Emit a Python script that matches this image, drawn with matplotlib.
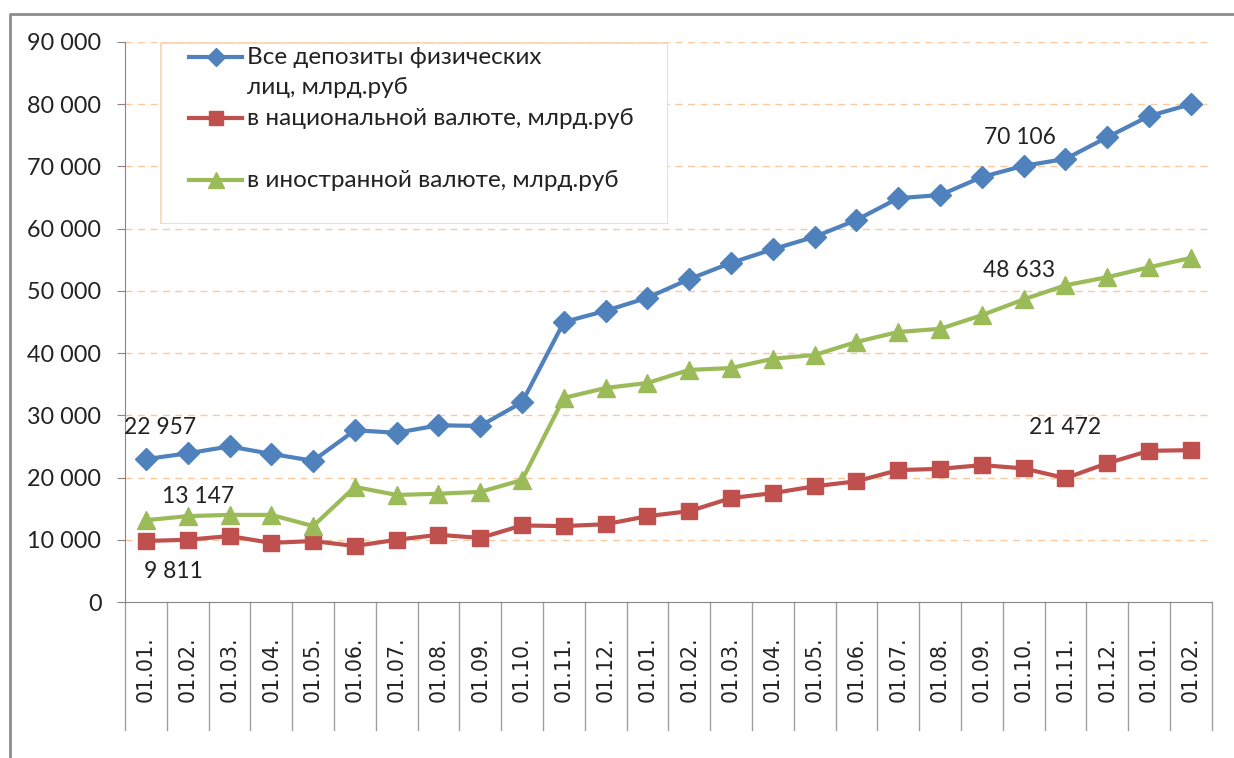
import matplotlib.pyplot as plt
import matplotlib.transforms as mtransforms
from matplotlib.patches import Rectangle
from matplotlib.lines import Line2D

months = ['01.01.', '01.02.', '01.03.', '01.04.', '01.05.', '01.06.',
          '01.07.', '01.08.', '01.09.', '01.10.', '01.11.', '01.12.']
categories = months + months + ['01.01.', '01.02.']

total = [22957, 23900, 25000, 23800, 22700, 27600, 27200, 28400, 28300, 32100,
         45000, 46800, 48900, 51900, 54500, 56700, 58700, 61400, 64900, 65400,
         68300, 70106, 71200, 74700, 78100, 80000]
national = [9811, 10000, 10600, 9500, 9800, 9000, 10000, 10800, 10300, 12300,
            12200, 12500, 13800, 14600, 16700, 17500, 18600, 19400, 21200, 21400,
            22000, 21472, 19900, 22300, 24300, 24400]
foreign = [13147, 13800, 14000, 14000, 12200, 18500, 17200, 17400, 17700, 19600,
           32800, 34400, 35200, 37300, 37600, 39100, 39700, 41800, 43400, 43900,
           46100, 48633, 50900, 52200, 53800, 55300]

series_names = ['Все депозиты физических\nлиц, млрд.руб',
                'в национальной валюте, млрд.руб',
                'в иностранной валюте, млрд.руб']

plt.rcParams['font.family'] = ['Lato', 'DejaVu Sans']

fig = plt.figure(figsize=(12.34, 7.58), dpi=100)
ax = fig.add_axes([0.1013, 0.2058, 0.8807, 0.7388])

x = list(range(len(categories)))
blue, red, green = '#4F81BD', '#C0504D', '#9BBB59'
ax.plot(x, total, color=blue, lw=3, marker='D', ms=11, zorder=4)
ax.plot(x, national, color=red, lw=3, marker='s', ms=12, zorder=4)
ax.plot(x, foreign, color=green, lw=3, marker='^', ms=13, zorder=4)

ax.set_xlim(-0.5, len(categories) - 0.5)
ax.set_ylim(0, 90000)
ax.set_yticks(range(0, 90001, 10000))
ax.set_yticklabels([f'{v:,}'.replace(',', ' ') for v in range(0, 90001, 10000)],
                   fontsize=16.8, color='#222222')
ax.tick_params(axis='y', length=6, color='#868686', pad=11)
for v in range(10000, 90001, 10000):
    ax.axhline(v, color='#FBC9A0', lw=1, ls=(0, (5, 4)), zorder=1)

for s in ['top', 'right']:
    ax.spines[s].set_visible(False)
ax.spines['left'].set_color('#868686')
ax.spines['bottom'].set_color('#868686')

# category axis like Excel: rotated labels in boxes
ax.set_xticks([])
trans = mtransforms.blended_transform_factory(ax.transData, ax.transAxes)
for k in range(len(categories) + 1):
    ax.add_line(Line2D([k - 0.5, k - 0.5], [0, -0.228], transform=trans,
                       color='#A0A0A0', lw=1, clip_on=False))
for i, c in enumerate(categories):
    ax.text(i, -0.062, c, transform=trans, rotation=90, ha='center', va='top',
            fontsize=14.8, family='DejaVu Sans', color='#222222')

# data labels
lab = dict(fontsize=16.4, color='#222222', zorder=5)
ax.text(0.35, 28000, '22 957', ha='center', va='center', **lab)
ax.text(1.25, 17000, '13 147', ha='center', va='center', **lab)
ax.text(0.65, 4900, '9 811', ha='center', va='center', **lab)
ax.text(20.9, 74700, '70 106', ha='center', va='center', **lab)
ax.text(20.9, 53200, '48 633', ha='center', va='center', **lab)
ax.text(22.0, 28000, '21 472', ha='center', va='center', **lab)

# legend
leg_ax = fig.add_axes([160 / 1234, 1 - 224 / 758, 508 / 1234, 182 / 758])
leg_ax.set_xlim(0, 508)
leg_ax.set_ylim(182, 0)
leg_ax.axis('off')
leg_ax.add_patch(Rectangle((0.5, 0.5), 507, 181, facecolor='white',
                           edgecolor='#FBD3B0', lw=1.2))
rows = [(blue, 'D', 9, 15), (red, 's', 10, 76), (green, '^', 11, 138)]
for (col, mk, ms, yy), name in zip(rows, series_names):
    leg_ax.plot([29, 82], [yy, yy], color=col, lw=3)
    leg_ax.plot([56], [yy], color=col, marker=mk, ms=ms)
    leg_ax.text(87, yy - 10, name, fontsize=17.5, va='top', ha='left',
                color='#222222', linespacing=1.5)

# outer chart frame (top and left edges visible)
fig.add_artist(Line2D([10 / 1234, 10 / 1234, 1], [0, 1 - 14 / 758, 1 - 14 / 758],
                      transform=fig.transFigure, color='#8C8C8C', lw=2))

plt.savefig('out.png')
